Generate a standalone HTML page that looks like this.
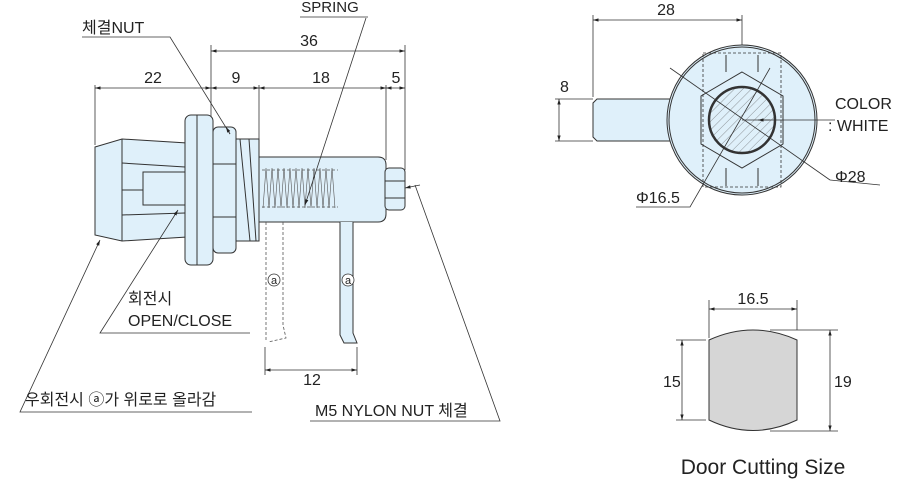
<!DOCTYPE html>
<html><head><meta charset="utf-8"><style>
html,body{margin:0;padding:0;background:#fff}
svg{display:block}
text{font-family:"Liberation Sans","Noto Sans CJK KR",sans-serif;fill:#222}
</style></head><body>
<svg width="900" height="480" viewBox="0 0 900 480" xmlns="http://www.w3.org/2000/svg">
<defs>
<marker id="a" viewBox="0 0 10 10" refX="10" refY="5" markerWidth="7" markerHeight="7" orient="auto-start-reverse"><path d="M0,2L10,5L0,8z" fill="#222"/></marker>
<pattern id="h" width="6" height="6" patternUnits="userSpaceOnUse" patternTransform="rotate(45)"><line x1="0" y1="0" x2="0" y2="6" stroke="#555" stroke-width="0.6"/></pattern>
</defs>
<g stroke="#333" stroke-width="0.8" fill="none">
<line x1="95" y1="85" x2="95" y2="145"/><line x1="211" y1="45" x2="211" y2="120"/>
<line x1="259" y1="85" x2="259" y2="140"/><line x1="386" y1="85" x2="386" y2="160"/>
<line x1="405" y1="45" x2="405" y2="170"/>
<line x1="95" y1="88" x2="211" y2="88" marker-start="url(#a)" marker-end="url(#a)"/>
<line x1="211" y1="88" x2="259" y2="88" marker-start="url(#a)" marker-end="url(#a)"/>
<line x1="259" y1="88" x2="386" y2="88" marker-start="url(#a)" marker-end="url(#a)"/>
<line x1="386" y1="88" x2="405" y2="88" marker-start="url(#a)" marker-end="url(#a)"/>
<line x1="211" y1="51" x2="405" y2="51" marker-start="url(#a)" marker-end="url(#a)"/>
<line x1="265" y1="347" x2="265" y2="375"/><line x1="357" y1="347" x2="357" y2="375"/>
<line x1="265" y1="370" x2="357" y2="370" marker-start="url(#a)" marker-end="url(#a)"/>
</g>
<g stroke="#333" stroke-width="1" fill="#dff0fa">
<polygon points="95,147 122,139 187,143 187,237 122,241 95,235"/>
<line x1="122" y1="139" x2="122" y2="241"/>
<polyline points="122,163 185,167"/><polyline points="122,215 185,213"/>
<polyline points="185,172 143,172 143,205 185,205" />
<line x1="122" y1="190" x2="143" y2="190"/>
<rect x="185" y="115" width="28" height="150" rx="6"/>
<line x1="197" y1="115" x2="197" y2="265"/>
<rect x="213" y="127" width="23" height="126" rx="5"/>
<line x1="213" y1="164" x2="236" y2="164"/><line x1="213" y1="217" x2="236" y2="217"/>
<rect x="236" y="139" width="23" height="102"/>
<line x1="240" y1="139" x2="250" y2="241"/><line x1="249" y1="139" x2="256" y2="241"/>
<path d="M259,157 H378 Q386,157 386,165 V214 Q386,222 378,222 H259 Z"/>
<rect x="385" y="168" width="20" height="42" rx="4"/>
<line x1="385" y1="181" x2="405" y2="181"/><line x1="385" y1="198" x2="405" y2="198"/>
<path d="M340,222 V335 L344,343 H357 L353,333 V222"/>
</g>
<g stroke="#555" stroke-width="0.8" fill="none">
<path d="M262,170 H338 M262,207 H338" stroke-dasharray="3,2"/>
<path d="M263,208 l3,-40 l3,40 l3,-40 l3,40 l3,-40 l3,40 l3,-40 l3,40 l3,-40 l3,40 l3,-40 l3,40 l3,-40 l3,40 l3,-40 l3,40 l3,-40 l3,40 l3,-40 l3,40 l3,-40 l3,40 l3,-40 l3,40" stroke-width="0.6"/>
<path d="M266,222 V342 M283,222 V325 L286,338 L268,342" stroke-dasharray="3,2"/>
</g>
<g stroke="#333" stroke-width="0.8" fill="none">
<circle cx="274" cy="280" r="6" fill="#fff"/><circle cx="348" cy="280" r="6" fill="#fff"/>
<polyline points="82,37 170,37 230,134" /><line x1="230" y1="134" x2="226" y2="127" marker-end="url(#a)"/>
<line x1="366" y1="18" x2="305" y2="205" marker-end="url(#a)"/>
<line x1="300" y1="17" x2="368" y2="17"/>
<polyline points="250,333 100,333 178,210" marker-end="url(#a)"/>
<polyline points="252,412 20,412 100,240" marker-end="url(#a)"/>
<polyline points="310,421 500,421 415,185" /><line x1="420" y1="185" x2="405" y2="188" marker-end="url(#a)"/>
</g>
<g font-size="16" text-anchor="middle" stroke="none">
<text x="153" y="83">22</text><text x="236" y="83">9</text><text x="321" y="83">18</text><text x="396" y="83">5</text>
<text x="309" y="46">36</text><text x="312" y="385">12</text>
<text x="330" y="12" font-size="15">SPRING</text>
<text x="274" y="284" font-size="11">a</text><text x="348" y="284" font-size="11">a</text>
</g>
<text x="82" y="33" font-size="16">체결NUT</text>
<text x="128" y="304" font-size="16">회전시</text>
<text x="128" y="326" font-size="16">OPEN/CLOSE</text>
<text x="25" y="405" font-size="16">우회전시 ⓐ가 위로로 올라감</text>
<text x="315" y="416" font-size="16">M5 NYLON NUT 체결</text>

<g stroke="#333" stroke-width="0.8" fill="none">
<line x1="593" y1="15" x2="593" y2="97"/><line x1="742" y1="15" x2="742" y2="45"/>
<line x1="593" y1="20" x2="742" y2="20" marker-start="url(#a)" marker-end="url(#a)"/>
<line x1="555" y1="99" x2="593" y2="99"/><line x1="555" y1="141" x2="593" y2="141"/>
<line x1="559" y1="99" x2="559" y2="141" marker-start="url(#a)" marker-end="url(#a)"/>
</g>
<g stroke="#333" stroke-width="1" fill="#dff0fa">
<polygon points="597,99 670,99 670,141 597,141 593,137 593,103"/>
<circle cx="742" cy="120" r="75"/>
<circle cx="742" cy="120" r="73"/>
<polygon points="742,72 783,96 783,144 742,168 701,144 701,96"/>
<line x1="726" y1="55" x2="726" y2="72"/><line x1="758" y1="55" x2="758" y2="72"/>
<line x1="726" y1="168" x2="726" y2="186"/><line x1="758" y1="168" x2="758" y2="186"/>
<circle cx="742" cy="120" r="33" fill="url(#h)" stroke-width="2.5"/>
</g>
<g stroke="#333" stroke-width="0.8" fill="none">
<rect x="703" y="53" width="78" height="134" stroke-dasharray="3,2"/>
<line x1="670" y1="68" x2="830" y2="180"/>
<line x1="830" y1="180" x2="880" y2="185"/>
<polyline points="636,207 690,207 770,68"/>
<line x1="742" y1="120" x2="835" y2="120"/>
<line x1="770" y1="120" x2="758" y2="120" marker-end="url(#a)"/>
</g>
<text x="666" y="15" font-size="16" text-anchor="middle">28</text>
<text x="560" y="92" font-size="16">8</text>
<text x="835" y="109" font-size="16">COLOR</text>
<text x="828" y="131" font-size="16">: WHITE</text>
<text x="835" y="182" font-size="16">Φ28</text>
<text x="636" y="203" font-size="16">Φ16.5</text>

<g stroke="#333" stroke-width="0.8" fill="none">
<line x1="709" y1="300" x2="709" y2="338"/><line x1="797" y1="300" x2="797" y2="330"/>
<line x1="709" y1="309" x2="797" y2="309" marker-start="url(#a)" marker-end="url(#a)"/>
<line x1="676" y1="340" x2="706" y2="340"/><line x1="676" y1="420" x2="706" y2="420"/>
<line x1="682" y1="340" x2="682" y2="420" marker-start="url(#a)" marker-end="url(#a)"/>
<line x1="770" y1="330" x2="838" y2="330"/><line x1="770" y1="431" x2="838" y2="431"/>
<line x1="830" y1="330" x2="830" y2="431" marker-start="url(#a)" marker-end="url(#a)"/>
</g>
<path d="M709,340 Q753,320 797,340 V420 Q753,441 709,420 Z" fill="#d6d6d6" stroke="#333" stroke-width="1"/>
<text x="753" y="304" font-size="16" text-anchor="middle">16.5</text>
<text x="663" y="387" font-size="16">15</text>
<text x="834" y="387" font-size="16">19</text>
<text x="763" y="474" font-size="21" text-anchor="middle">Door Cutting Size</text>
</svg>
</body></html>
